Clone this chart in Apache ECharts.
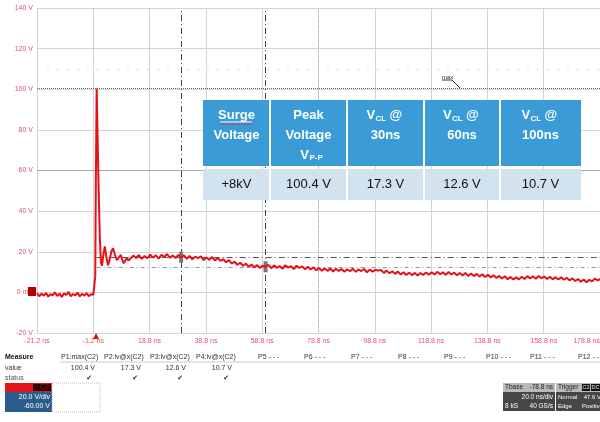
<!DOCTYPE html>
<html><head><meta charset="utf-8">
<script src="https://cdn.jsdelivr.net/npm/echarts@6/dist/echarts.min.js"></script>
<style>html,body{margin:0;padding:0;background:#fff}#c{width:600px;height:422px}</style>
</head><body><div id="c"></div>
<script>
// ---- trace data (time in ns, voltage in V) ----
const baseTime = [-21.2,-20.4,-19.6,-18.8,-18.0,-17.2,-16.4,-15.6,-14.8,-14.0,-13.2,-12.4,-11.6,-10.8,-10.0,-9.2,-8.4,-7.6,-6.8,-6.0,-5.2,-4.4,-3.6,-2.8,-2.0,-1.2];
const baseVolt = [-0.4,-1.9,-0.7,-1.6,-0.3,-2.1,-0.9,-1.4,0.0,-1.8,-0.6,-2.2,-0.5,-1.3,0.2,-1.9,-0.8,-1.5,-0.1,-2.0,-0.7,-1.6,-0.4,-1.9,-0.9,-1.2];
const spikeTime = [-0.8,-0.5,-0.3,0.0,0.3,0.7,1.1,1.5,1.9,2.4,2.9,3.4,4.0,4.6,5.2,5.8,6.5,7.2,7.9,8.6,9.1,9.6,10.2,10.7,11.3];
const spikeVolt = [-0.9,8,55,100.4,78,50,28,15,13.0,19,22.6,18,13.3,16,20,21.7,18.5,15.8,17.2,18.4,16,14.3,15.8,16.9,15.6];
const tailTime = [12,13,14,15,16,17,18,19,20,21,22,23,24,25,26,27,28,29,
 30,31,32,33,34,35,36,37,38,39,40,41,42,43,44,
 45,46,47,48,49,50,51,52,53,54,55,56,57,58,59,
 60,61,62,63,64,65,66,67,68,69,70,71,72,73,74,
 75,76,77,78,79,80,81,82,83,84,85,86,87,88,89,
 90,91,92,93,94,95,96,97,98,99,100,101,102,103,104,
 105,106,107,108,109,110,111,112,113,114,115,116,117,118,119,
 120,121,122,123,124,125,126,127,128,129,130,131,132,133,134,
 135,136,137,138,139,140,141,142,143,144,145,146,147,148,149,
 150,151,152,153,154,155,156,157,158,159,160,161,162,163,164,
 165,166,167,168,169,170,171,172,173,174,175,176,177,178,178.8];
const tailVolt = [16.2,18.1,16.9,18.4,16.5,17.9,16.8,18.6,17.1,18.3,16.6,18.5,17.4,18.9,17.0,18.2,16.9,18.4,
 17.3,18.2,16.5,17.9,16.3,17.6,16.9,17.8,15.9,17.2,16.1,17.4,15.7,16.9,15.5,
 16.3,14.8,15.9,14.2,15.1,13.6,14.6,13.1,14.2,12.5,13.7,12.3,13.4,12.0,13.2,
 12.6,13.5,11.9,13.3,12.1,13.0,11.6,13.4,12.2,12.9,11.5,13.1,12.0,12.8,11.4,
 12.6,11.3,12.4,10.9,11.9,10.7,11.8,10.6,11.7,10.3,11.6,10.5,11.5,10.2,11.4,
 10.4,11.6,10.1,11.3,10.5,11.5,9.9,11.2,10.2,11.1,10.7,11.0,9.6,10.7,9.4,
 10.4,9.1,10.2,8.8,9.9,8.6,9.7,8.5,9.6,8.3,9.5,8.6,9.8,8.7,9.9,
 8.8,10.1,8.9,9.9,8.6,10.0,8.8,9.7,8.4,9.5,8.3,9.6,8.1,9.3,8.0,
 9.1,7.8,8.9,7.6,8.7,7.3,8.4,7.1,8.1,6.8,7.9,6.5,7.6,6.3,7.4,
 6.4,7.7,6.6,8.0,6.8,7.9,6.7,8.1,6.9,7.8,6.6,7.7,6.4,7.5,6.3,
 7.4,6.2,7.2,5.9,6.9,5.6,6.6,5.2,6.3,5.0,6.2,5.4,6.8,5.9,6.6];

// ---- axis tick labels ----
const xTickLabels = ['-21.2 ns','-1.2 ns','18.8 ns','38.8 ns','58.8 ns','78.8 ns','98.8 ns','118.8 ns','138.8 ns','158.8 ns','178.8 ns'];
const yTickLabels = ['-20 V','0 mV','20 V','40 V','60 V','80 V','100 V','120 V','140 V'];

// ---- cursor / measurement levels ----
const peakLevel = 100.4;
const cursorTimes = [30, 60];
const cursorLevels = [17.3, 12.6];

// ---- measurement panel ----
const measureNames = ['P1:max(C2)','P2:lv@x(C2)','P3:lv@x(C2)','P4:lv@x(C2)','P5 - - -','P6 - - -','P7 - - -','P8 - - -','P9 - - -','P10 - - -','P11 - - -','P12 - - -'];
const measureValues = ['100.4 V','17.3 V','12.6 V','10.7 V'];

// ---- overlay table ----
const tableValues = ['+8kV','100.4 V','17.3 V','12.6 V','10.7 V'];
const tableTimes = ['30ns','60ns','100ns'];

const times = baseTime.concat(spikeTime, tailTime);
const volts = baseVolt.concat(spikeVolt, tailVolt);
const traceData = times.map((t,i)=>[t, volts[i]]);

const F = 'Liberation Sans, Arial, sans-serif';
const lblColor = '#e4506a';
const g = [];
function txt(x,y,s,opt){ opt=opt||{}; g.push({type:'text', z:100, style:{text:s,x:x,y:y,fill:opt.fill||'#333',
  font:(opt.weight||'normal')+' '+(opt.size||7)+'px '+(opt.family||F), textAlign:opt.align||'left', textVerticalAlign:opt.valign||'middle'}}); }
function rect(x,y,w,h,fill,opt){ opt=opt||{}; g.push({type:'rect', z:opt.z||90, shape:{x:x,y:y,width:w,height:h}, style:Object.assign({fill:fill}, opt.style||{})}); }

// table overlay
const colX = [203,270,347,424,500,581];
rect(203,100,378,66,'#3b9bd7');
rect(203,169,378,31,'#d2e2ef');
for (let i=1;i<5;i++){ g.push({type:'line', z:95, shape:{x1:colX[i],y1:100,x2:colX[i],y2:200}, style:{stroke:'#fff',lineWidth:2}}); }
const cx = i => (colX[i]+colX[i+1])/2;
const hs = {fill:'#fff', weight:'bold', size:13, align:'center'};
txt(cx(0),115,'Surge',hs); txt(cx(0),135,'Voltage',hs);
g.push({type:'line', z:101, shape:{x1:220,y1:122,x2:252,y2:122}, style:{stroke:'#fff',lineWidth:1}});
g.push({type:'line', z:101, shape:{x1:220,y1:124,x2:252,y2:124}, style:{stroke:'#d02030',lineWidth:1,lineDash:[2,1]}});
txt(cx(1),115,'Peak',hs); txt(cx(1),135,'Voltage',hs);
txt(cx(1)-4,155,'V',hs); txt(cx(1)+1,158,'P-P',{fill:'#fff',weight:'bold',size:8,align:'left'});
for (let k=0;k<3;k++){
  const c = cx(2+k);
  txt(c-19,115,'V',{fill:'#fff',weight:'bold',size:13,align:'left'});
  txt(c-10,119,'CL',{fill:'#fff',weight:'bold',size:8,align:'left'});
  txt(c+4,115,'@',{fill:'#fff',weight:'bold',size:13,align:'left'});
  txt(c,135,tableTimes[k],hs);
}
for (let i=0;i<5;i++) txt(cx(i),184,tableValues[i],{fill:'#111',size:13,align:'center'});

// measurement panel
txt(5,357,'Measure',{fill:'#111',weight:'bold'});
txt(5,368,'value',{fill:'#333'});
txt(5,378,'status',{fill:'#555'});
const mX = [61,104,150,196,258,304,351,398,444,486,530,578];
measureNames.forEach((n,i)=>txt(mX[i],357,n,{fill:'#333'}));
const vRight = [95,141,186,232];
measureValues.forEach((v,i)=>{ txt(vRight[i],368,v,{fill:'#333',align:'right'}); txt(vRight[i]-3,378,'\u2714',{fill:'#333',align:'right',family:'DejaVu Sans'}); });
g.push({type:'line', z:90, shape:{x1:60,y1:362,x2:600,y2:362}, style:{stroke:'#ccc',lineWidth:1}});

// C2 channel box
rect(5,383,47,9,'#e8141c');
rect(33,384,18,7,'#2a0000',{z:91});
txt(49,387.5,'C2',{fill:'#a01010',align:'right',size:7});
rect(5,392,47,20,'#2a5d8c');
txt(50,397,'20.0 V/div',{fill:'#fff',align:'right'});
txt(50,406,'-60.00 V',{fill:'#fff',align:'right'});
rect(52,383,48,29,'none',{style:{stroke:'#bbb',lineWidth:1,lineDash:[1,1]}});

// timebase / trigger box
rect(503,383,52,9,'#b9b9b9');
txt(505,387.5,'Tbase',{fill:'#222',size:6.5}); txt(553,387.5,'-78.8 ns',{fill:'#222',align:'right',size:6.5});
rect(503,392,52,19,'#464646');
txt(553,397,'20.0 ns/div',{fill:'#fff',align:'right',size:6.5});
txt(505,406,'8 kS',{fill:'#fff',size:6.5}); txt(553,406,'40 GS/s',{fill:'#fff',align:'right',size:6.5});
rect(556,383,44,9,'#b9b9b9');
txt(558,387.5,'Trigger',{fill:'#222',size:6.5});
rect(582,384,8,7,'#111',{z:91}); txt(586,387.5,'C2',{fill:'#eee',align:'center',size:5.5});
rect(591,384,9,7,'#111',{z:91}); txt(595.5,387.5,'DC',{fill:'#eee',align:'center',size:5.5});
rect(556,392,44,19,'#464646');
txt(558,397,'Normal',{fill:'#fff',size:6}); txt(601,397,'47.6 V',{fill:'#fff',align:'right',size:6});
txt(558,406,'Edge',{fill:'#fff',size:6}); txt(603,406,'Positive',{fill:'#fff',align:'right',size:6});

// channel ground marker & trigger arrow & max tag
rect(28,287,8,9,'#b00000');
g.push({type:'polygon', z:90, shape:{points:[[96,333],[93,339],[99,339]]}, style:{fill:'#e01010'}});
txt(442,77,'max',{fill:'#333',size:6});
g.push({type:'line', z:90, shape:{x1:442,y1:80,x2:452,y2:80}, style:{stroke:'#333',lineWidth:1}});
g.push({type:'line', z:90, shape:{x1:452,y1:80,x2:460,y2:88}, style:{stroke:'#333',lineWidth:1}});

const chart = echarts.init(document.getElementById('c'), null, {renderer:'canvas'});
chart.setOption({
  animation:false,
  backgroundColor:'#fff',
  grid:{left:37,right:0,top:8,bottom:89,containLabel:false,outerBoundsMode:'none'},
  xAxis:{type:'value',min:-21.2,max:178.8,interval:20,
    axisLine:{show:false},axisTick:{show:false},
    splitLine:{show:true,lineStyle:{color:'#d4d4d4',width:1}},
    axisLabel:{color:lblColor,fontSize:7,fontFamily:F,margin:5,showMinLabel:true,showMaxLabel:true,alignMaxLabel:'right',
      formatter:v=>xTickLabels[Math.round((v+21.2)/20)]||''}},
  yAxis:{type:'value',min:-20,max:140,interval:20,
    axisLine:{show:false},axisTick:{show:false},
    splitLine:{show:true,lineStyle:{color:'#d4d4d4',width:1}},
    axisLabel:{color:lblColor,fontSize:7,fontFamily:F,margin:4,
      formatter:v=>yTickLabels[Math.round((v+20)/20)]||''}},
  graphic:g,
  series:[{
    type:'line', data:traceData, showSymbol:false, symbol:'none',
    lineStyle:{color:'#e3121a',width:2}, z:5,
    markLine:{silent:true,symbol:['none','none'],label:{show:false},animation:false,
      data:[
        {yAxis:60,lineStyle:{color:'#a8a8a8',type:'solid',width:1}},
        {xAxis:78.8,lineStyle:{color:'#bdbdbd',type:[3,2],width:1}},
        {yAxis:110,lineStyle:{color:'#d8d8d8',type:[2,8],width:1}},
        {yAxis:peakLevel,lineStyle:{color:'#666',type:[1,1],width:1}},
        [{coord:[0,cursorLevels[0]]},{coord:[178.8,cursorLevels[0]],lineStyle:{color:'#555',type:[6,3,1,3],width:1}}],
        [{coord:[0,cursorLevels[1]]},{coord:[178.8,cursorLevels[1]],lineStyle:{color:'#8a97a6',type:[4,3,1,3],width:1}}],
        {xAxis:cursorTimes[0],lineStyle:{color:'#444',type:[6,3,1,3],width:1}},
        {xAxis:cursorTimes[1],lineStyle:{color:'#444',type:[6,3,1,3],width:1}}
      ]},
    markPoint:{silent:true,symbol:'rect',symbolSize:[4,11],itemStyle:{color:'#777'},label:{show:false},
      data:[{coord:[cursorTimes[0],cursorLevels[0]]},{coord:[cursorTimes[1],cursorLevels[1]]}]}
  }]
});
</script></body></html>
